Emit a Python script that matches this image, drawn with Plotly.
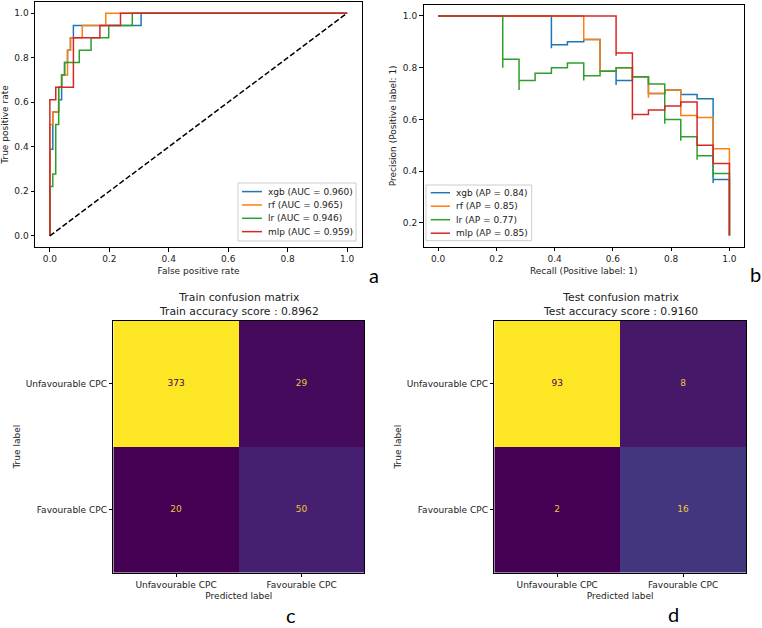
import plotly.graph_objects as go

# ---------------- data ----------------
models = ["xgb", "rf", "lr", "mlp"]
colors = ["#1f77b4", "#ff7f0e", "#2ca02c", "#d62728"]
auc_values = [0.960, 0.965, 0.946, 0.959]
ap_values = [0.84, 0.85, 0.77, 0.85]

# ROC curves (corner points)
xgb_fpr = [0.0, 0.0, 0.0099, 0.0099, 0.0297, 0.0297, 0.0396, 0.0396, 0.0495, 0.0495, 0.0594, 0.0594, 0.0693, 0.0693, 0.0792, 0.0792, 0.3069, 0.3069, 1.0]
xgb_tpr = [0.0, 0.389, 0.389, 0.556, 0.556, 0.611, 0.611, 0.722, 0.722, 0.778, 0.778, 0.833, 0.833, 0.889, 0.889, 0.944, 0.944, 1.0, 1.0]
rf_fpr = [0.0, 0.0, 0.0099, 0.0099, 0.0297, 0.0297, 0.0396, 0.0396, 0.0594, 0.0594, 0.0693, 0.0693, 0.1089, 0.1089, 0.1881, 0.1881, 1.0]
rf_tpr = [0.0, 0.5, 0.5, 0.556, 0.556, 0.667, 0.667, 0.722, 0.722, 0.833, 0.833, 0.889, 0.889, 0.944, 0.944, 1.0, 1.0]
lr_fpr = [0.0, 0.0, 0.0099, 0.0099, 0.0198, 0.0198, 0.0297, 0.0297, 0.0396, 0.0396, 0.0495, 0.0495, 0.099, 0.099, 0.1386, 0.1386, 0.198, 0.198, 0.2772, 0.2772, 1.0]
lr_tpr = [0.0, 0.222, 0.222, 0.278, 0.278, 0.5, 0.5, 0.667, 0.667, 0.722, 0.722, 0.778, 0.778, 0.833, 0.833, 0.889, 0.889, 0.944, 0.944, 1.0, 1.0]
mlp_fpr = [0.0, 0.0, 0.0198, 0.0198, 0.0792, 0.0792, 0.1683, 0.1683, 0.2376, 0.2376, 1.0]
mlp_tpr = [0.0, 0.611, 0.611, 0.667, 0.667, 0.889, 0.889, 0.944, 0.944, 1.0, 1.0]
chance_x = [0.0, 1.0]
chance_y = [0.0, 1.0]

# Precision-recall curves (descending recall, drawn as steps-post)
xgb_recall = [1.0, 1.0, 0.944, 0.944, 0.889, 0.833, 0.778, 0.722, 0.667, 0.611, 0.611, 0.556, 0.5, 0.444, 0.389, 0.389, 0.0]
xgb_precision = [0.151, 0.367, 0.354, 0.68, 0.696, 0.714, 0.7, 0.765, 0.75, 0.733, 0.786, 0.909, 0.9, 0.889, 0.875, 1.0, 1.0]
rf_recall = [1.0, 1.0, 0.944, 0.944, 0.889, 0.833, 0.778, 0.722, 0.722, 0.667, 0.611, 0.556, 0.5, 0.0]
rf_precision = [0.151, 0.486, 0.472, 0.607, 0.615, 0.714, 0.7, 0.684, 0.765, 0.8, 0.786, 0.909, 1.0, 1.0]
lr_recall = [1.0, 1.0, 0.944, 0.944, 0.889, 0.889, 0.833, 0.833, 0.778, 0.778, 0.722, 0.667, 0.611, 0.556, 0.5, 0.5, 0.444, 0.389, 0.333, 0.278, 0.278, 0.222, 0.222, 0.0]
lr_precision = [0.151, 0.391, 0.378, 0.459, 0.444, 0.533, 0.517, 0.6, 0.583, 0.737, 0.765, 0.8, 0.786, 0.769, 0.75, 0.818, 0.8, 0.778, 0.75, 0.714, 0.833, 0.8, 1.0, 1.0]
mlp_recall = [1.0, 1.0, 0.944, 0.889, 0.833, 0.778, 0.722, 0.667, 0.667, 0.611, 0.611, 0.0]
mlp_precision = [0.151, 0.429, 0.5, 0.667, 0.652, 0.636, 0.619, 0.6, 0.857, 0.846, 1.0, 1.0]

# Confusion matrices
class_labels = ["Unfavourable CPC", "Favourable CPC"]
train_cm = [[373, 29], [20, 50]]
test_cm = [[93, 8], [2, 16]]
train_accuracy = "0.8962"
test_accuracy = "0.9160"

panel_letters = ["a", "b", "c", "d"]
tick_vals = [0.0, 0.2, 0.4, 0.6, 0.8, 1.0]

# ---------------- layout helpers ----------------
W, H = 762, 628
FONT = "DejaVu Sans"
TXT = "#222222"


def px_x(v):
    return v / W


def px_y(v):
    return 1 - v / H


def dom_x(a, b):
    return [px_x(a), px_x(b)]


def dom_y(top, bottom):
    return [px_y(bottom), px_y(top)]


axis_style = dict(
    showline=True, mirror=True, linecolor="#000000", linewidth=1,
    ticks="outside", ticklen=3.5, tickwidth=1, tickcolor="#000000",
    showgrid=False, zeroline=False,
    tickfont=dict(family=FONT, size=9, color=TXT),
)

fig = go.Figure()

roc_x = [xgb_fpr, rf_fpr, lr_fpr, mlp_fpr]
roc_y = [xgb_tpr, rf_tpr, lr_tpr, mlp_tpr]
for name, c, fx, ty in zip(models, colors, roc_x, roc_y):
    fig.add_trace(go.Scatter(x=fx, y=ty, mode="lines", name=name,
                             line=dict(color=c, width=1.5), showlegend=False,
                             xaxis="x", yaxis="y"))
fig.add_trace(go.Scatter(x=chance_x, y=chance_y, mode="lines", showlegend=False,
                         line=dict(color="black", width=1.5, dash="5.5px,2.4px"),
                         xaxis="x", yaxis="y"))

pr_x = [xgb_recall, rf_recall, lr_recall, mlp_recall]
pr_y = [xgb_precision, rf_precision, lr_precision, mlp_precision]
for name, c, rx, py in zip(models, colors, pr_x, pr_y):
    fig.add_trace(go.Scatter(x=rx, y=py, mode="lines", name=name,
                             line=dict(color=c, width=1.5, shape="hv"),
                             showlegend=False, xaxis="x2", yaxis="y2"))

viridis_lo, viridis_hi = "#440154", "#fde725"
for cm, xa, ya in [(train_cm, "x3", "y3"), (test_cm, "x4", "y4")]:
    flat = [v for row in cm for v in row]
    zmin, zmax = min(flat), max(flat)
    fig.add_trace(go.Heatmap(z=cm, x=class_labels, y=class_labels, zmin=zmin, zmax=zmax,
                             colorscale="Viridis", showscale=False, xaxis=xa, yaxis=ya,
                             hoverinfo="skip"))
    thresh = (zmin + zmax) / 2
    tx, ty, tt, tc = [], [], [], []
    for i, row in enumerate(cm):
        for j, v in enumerate(row):
            tx.append(class_labels[j])
            ty.append(class_labels[i])
            tt.append(str(v))
            tc.append(viridis_lo if v > thresh else "#e8c83a")
    fig.add_trace(go.Scatter(x=tx, y=ty, text=tt, mode="text", showlegend=False,
                             textfont=dict(family=FONT, size=9, color=tc),
                             xaxis=xa, yaxis=ya, hoverinfo="skip"))

# panel domains (pixel measured)
roc_dx, roc_dy = dom_x(35, 362), dom_y(2, 247)
pr_dx, pr_dy = dom_x(423.5, 744), dom_y(5, 246.7)
c_dx, c_dy = dom_x(113.3, 364.3), dom_y(320.7, 572.7)
d_dx, d_dy = dom_x(494.3, 746), dom_y(320.7, 572.7)

title_font = dict(family=FONT, size=9, color=TXT)

fig.update_layout(
    width=W, height=H, autosize=False,
    margin=dict(l=0, r=0, t=0, b=0),
    paper_bgcolor="white", plot_bgcolor="white",
    font=dict(family=FONT, size=9, color=TXT),
    xaxis=dict(domain=roc_dx, range=[-0.05, 1.05], tickvals=tick_vals, tickformat=".1f",
               title=dict(text="False positive rate", font=title_font, standoff=4),
               anchor="y", **axis_style),
    yaxis=dict(domain=roc_dy, range=[-0.05, 1.05], tickvals=tick_vals, tickformat=".1f",
               title=dict(text="True positive rate", font=title_font, standoff=5),
               anchor="x", **axis_style),
    xaxis2=dict(domain=pr_dx, range=[-0.05, 1.05], tickvals=tick_vals, tickformat=".1f",
                title=dict(text="Recall (Positive label: 1)", font=title_font, standoff=4),
                anchor="y2", **axis_style),
    yaxis2=dict(domain=pr_dy, range=[0.1075, 1.0425], tickvals=tick_vals[1:], tickformat=".1f",
                title=dict(text="Precision (Positive label: 1)", font=title_font, standoff=4),
                anchor="x2", **axis_style),
    xaxis3=dict(domain=c_dx, type="category", categoryorder="array", categoryarray=class_labels,
                title=dict(text="Predicted label", font=title_font, standoff=3),
                anchor="y3", **axis_style),
    yaxis3=dict(domain=c_dy, type="category", categoryorder="array", categoryarray=class_labels,
                autorange="reversed",
                title=dict(text="True label", font=title_font, standoff=3),
                anchor="x3", **axis_style),
    xaxis4=dict(domain=d_dx, type="category", categoryorder="array", categoryarray=class_labels,
                title=dict(text="Predicted label", font=title_font, standoff=3),
                anchor="y4", **axis_style),
    yaxis4=dict(domain=d_dy, type="category", categoryorder="array", categoryarray=class_labels,
                autorange="reversed",
                title=dict(text="True label", font=title_font, standoff=3),
                anchor="x4", **axis_style),
)

shapes = []
annotations = []


def add_legend(box, first_y, step, line_x, text_x, labels):
    x0, y0, x1, y1 = box
    shapes.append(dict(type="rect", xref="paper", yref="paper",
                       x0=px_x(x0), x1=px_x(x1), y0=px_y(y1), y1=px_y(y0),
                       line=dict(color="#cccccc", width=1), fillcolor="rgba(255,255,255,0.8)",
                       layer="above"))
    for k, (lab, col) in enumerate(zip(labels, colors)):
        yy = first_y + k * step
        shapes.append(dict(type="line", xref="paper", yref="paper",
                           x0=px_x(line_x[0]), x1=px_x(line_x[1]), y0=px_y(yy), y1=px_y(yy),
                           line=dict(color=col, width=1.5), layer="above"))
        annotations.append(dict(xref="paper", yref="paper", x=px_x(text_x), y=px_y(yy),
                                xanchor="left", yanchor="middle", showarrow=False, text=lab,
                                font=dict(family=FONT, size=9, color=TXT)))


add_legend((238, 183, 356, 241), 191.6, 13.35, (242, 262), 266,
           [f"{m} (AUC = {a:.3f})" for m, a in zip(models, auc_values)])
add_legend((426, 185, 531.7, 240.7), 192.7, 13.5, (430.7, 450), 454,
           [f"{m} (AP = {a:.2f})" for m, a in zip(models, ap_values)])

# confusion matrix titles
for dxr, prefix, acc in [(c_dx, "Train", train_accuracy), (d_dx, "Test", test_accuracy)]:
    annotations.append(dict(xref="paper", yref="paper", x=(dxr[0] + dxr[1]) / 2, y=px_y(305),
                            xanchor="center", yanchor="middle", showarrow=False,
                            text=f"{prefix} confusion matrix<br>{prefix} accuracy score : {acc}",
                            font=dict(family=FONT, size=10.8, color=TXT)))

# panel letters
for letter, (lx, ly) in zip(panel_letters, [(373.5, 275), (755, 274), (291.3, 614.5), (673, 614)]):
    annotations.append(dict(xref="paper", yref="paper", x=px_x(lx), y=px_y(ly),
                            xanchor="center", yanchor="middle", showarrow=False, text=letter,
                            font=dict(family="Lato", size=20, color="black")))

fig.update_layout(shapes=shapes, annotations=annotations)
fig.write_html("out.html",
               config={"displayModeBar": False},
               post_script="document.body.style.margin='0';document.body.style.overflow='hidden';")
